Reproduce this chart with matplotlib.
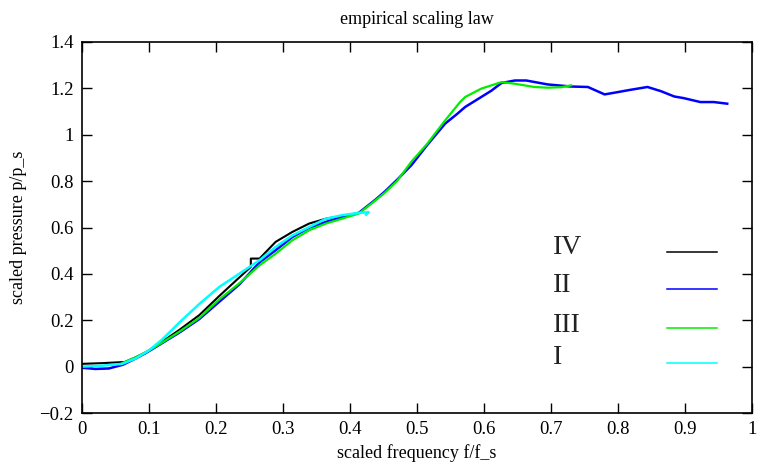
import matplotlib
matplotlib.use("Agg")
import matplotlib.pyplot as plt
from matplotlib.ticker import FuncFormatter

plt.rcParams['font.family'] = ['Liberation Serif', 'DejaVu Serif']

# series IV (black)
x_iv = [0, 0.03, 0.064, 0.08, 0.096, 0.116, 0.146, 0.175, 0.205, 0.235, 0.252, 0.252,
        0.265, 0.289, 0.314, 0.339, 0.364, 0.372]
y_iv = [0.012, 0.015, 0.02, 0.04, 0.063, 0.1, 0.16, 0.222, 0.305, 0.385, 0.43, 0.466,
        0.466, 0.538, 0.581, 0.617, 0.638, 0.642]

# series II (blue)
x_ii = [0, 0.02, 0.04, 0.061, 0.08, 0.096, 0.116, 0.146, 0.175, 0.205, 0.235, 0.265,
        0.289, 0.314, 0.339, 0.364, 0.388, 0.413, 0.438, 0.452, 0.47, 0.492, 0.515,
        0.542, 0.56, 0.572, 0.596, 0.611, 0.626, 0.646, 0.663, 0.695, 0.73, 0.755,
        0.78, 0.794, 0.819, 0.844, 0.864, 0.884, 0.898, 0.923, 0.943, 0.963]
y_ii = [-0.005, -0.01, -0.008, 0.008, 0.035, 0.06, 0.095, 0.148, 0.205, 0.28, 0.355,
        0.45, 0.502, 0.559, 0.599, 0.624, 0.645, 0.663, 0.72, 0.755, 0.805, 0.87, 0.955,
        1.048, 1.09, 1.12, 1.163, 1.19, 1.223, 1.234, 1.234, 1.217, 1.208, 1.206,
        1.174, 1.181, 1.194, 1.206, 1.188, 1.165, 1.158, 1.141, 1.141, 1.134]

# series III (green)
x_iii = [0.06, 0.08, 0.096, 0.116, 0.146, 0.175, 0.205, 0.235, 0.265, 0.289, 0.314,
         0.339, 0.364, 0.388, 0.413, 0.438, 0.452, 0.47, 0.492, 0.515, 0.542, 0.564,
         0.572, 0.596, 0.626, 0.646, 0.675, 0.695, 0.715, 0.73]
y_iii = [0.015, 0.04, 0.063, 0.097, 0.152, 0.21, 0.29, 0.36, 0.437, 0.487, 0.545,
         0.588, 0.617, 0.638, 0.66, 0.717, 0.75, 0.8, 0.885, 0.96, 1.062, 1.14,
         1.163, 1.199, 1.227, 1.22, 1.206, 1.203, 1.205, 1.213]

# series I (cyan)
x_i = [0, 0.03, 0.06, 0.08, 0.1, 0.12, 0.146, 0.175, 0.205, 0.235, 0.265, 0.289,
       0.314, 0.339, 0.364, 0.388, 0.413, 0.428, 0.424]
y_i = [0.0, 0.004, 0.012, 0.035, 0.07, 0.118, 0.192, 0.27, 0.344, 0.401, 0.459, 0.516,
       0.566, 0.602, 0.638, 0.653, 0.663, 0.666, 0.655]

labels = ['IV', 'II', 'III', 'I']
colors = ['black', '#0000ff', '#00ee00', '#00ffff']
widths = [1.5, 1.8, 1.6, 1.8]
xs = [x_iv, x_ii, x_iii, x_i]
ys = [y_iv, y_ii, y_iii, y_i]

fig = plt.figure(figsize=(7.58, 4.70), dpi=100)
L, R, T, B = 82, 752, 42, 413
ax = fig.add_axes([L/758, (470 - B)/470, (R - L)/758, (B - T)/470])

for x, y, c, w in zip(xs, ys, colors, widths):
    ax.plot(x, y, color=c, lw=w)

# hand-placed key, like the original
def ax_x(px):
    return (px - L)/(R - L)

def ax_y(py):
    return (B - py)/(B - T)

key_y = [247, 285, 325, 358]
line_y = [251.7, 289.3, 328.3, 363.3]
for lab, c, ty, ly in zip(labels, colors, key_y, line_y):
    ax.text(ax_x(553), ax_y(ty), lab, transform=ax.transAxes, fontsize=20,
            va='center', ha='left', color='#222222')
    ax.plot([ax_x(667), ax_x(717)], [ax_y(ly), ax_y(ly)], transform=ax.transAxes,
            color=c, lw=1.1)

ax.set_xlim(0, 1)
ax.set_ylim(-0.2, 1.4)
ax.set_xticks([i/10 for i in range(11)])
ax.set_yticks([-0.2, 0, 0.2, 0.4, 0.6, 0.8, 1, 1.2, 1.4])
fmt = FuncFormatter(lambda v, p: f'{v:g}'.replace('-', '\u2212'))
ax.xaxis.set_major_formatter(fmt)
ax.yaxis.set_major_formatter(fmt)
ax.tick_params(direction='in', length=7, width=1, top=True, right=True,
               labelsize=13.5, pad=6)
for s in ax.spines.values():
    s.set_linewidth(1.2)

ax.set_title('empirical scaling law', fontsize=13, pad=13)
ax.set_xlabel('scaled frequency f/f_s', fontsize=13, labelpad=4)
ax.set_ylabel('scaled pressure p/p_s', fontsize=13, labelpad=9)

fig.savefig('out.png', dpi=100)
